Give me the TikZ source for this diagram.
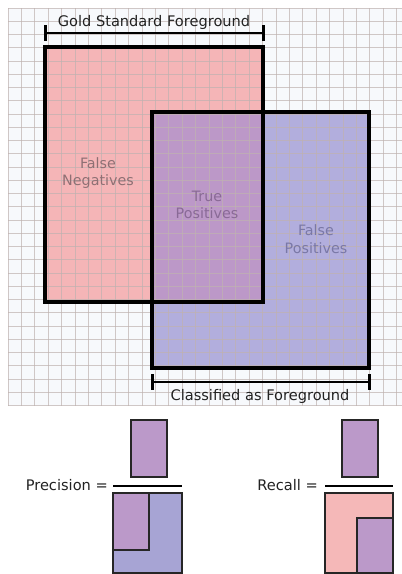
\documentclass[tikz,border=0pt]{standalone}
\usepackage{fontspec}
\setmainfont{DejaVu Sans}
\definecolor{bgc}{HTML}{F7F9FC}
\definecolor{gridc}{HTML}{BFB2B0}
\definecolor{redc}{HTML}{F5B5B7}
\definecolor{bluec}{HTML}{B2AEDD}
\definecolor{purpc}{HTML}{BC98C8}
\definecolor{sbluec}{HTML}{A7A4D4}
\definecolor{spurpc}{HTML}{BB99C9}
\definecolor{sredc}{HTML}{F5B8B8}
\definecolor{fnc}{HTML}{8E7074}
\definecolor{tpc}{HTML}{896A96}
\definecolor{fpc}{HTML}{7A78A6}
\definecolor{txtc}{HTML}{222222}
\begin{document}
\begin{tikzpicture}[x=1pt,y=-1pt,
  bigbox/.style={draw=black,line width=4.5pt},
  bracket/.style={draw=black,line width=2.6pt},
  tick/.style={draw=black,line width=3pt},
  smallbox/.style={draw=black!85,line width=1.3pt},
  fracline/.style={draw=black,line width=1.8pt},
  lbl/.style={font=\fontsize{14.3}{17.5}\selectfont,align=center,inner sep=0pt},
  hdr/.style={font=\fontsize{14.6}{17}\selectfont,text=txtc,inner sep=0pt}]
\useasboundingbox (0,0) rectangle (402,574);
\fill[white] (0,0) rectangle (402,574);
% grid background
\fill[bgc] (8,8) rectangle (402,405.5);
% region fills
\fill[redc] (45,47) rectangle (263,302);
\fill[bluec] (152,112) rectangle (369,368);
\fill[purpc] (152,112) rectangle (263,302);
% grid
\foreach \i in {0,...,29} {
  \draw[gridc,line width=0.9pt,opacity=0.7] ({8+13.4*\i},8) -- ({8+13.4*\i},405.5);
}
\foreach \j in {0,...,30} {
  \draw[gridc,line width=0.9pt,opacity=0.7] (8,{8+13.25*\j}) -- (402,{8+13.25*\j});
}
% borders
\draw[bigbox] (45,47) rectangle (263,302);
\draw[bigbox] (152,112) rectangle (369,368);
% gold bracket
\coordinate (g1) at (45,33);
\coordinate (g2) at (263,33);
\draw[bracket] (g1) -- (g2);
\draw[tick] (45,25) -- (45,41);
\draw[tick] (263,25) -- (263,41);
\node[hdr] (gold) at (154,22) {Gold Standard Foreground};
% classified bracket
\coordinate (c1) at (152,382);
\coordinate (c2) at (369,382);
\draw[bracket] (c1) -- (c2);
\draw[tick] (152,374) -- (152,390);
\draw[tick] (369,374) -- (369,390);
\node[hdr] (clf) at (260,396) {Classified as Foreground};
% labels
\node[lbl,text=fnc] (fn) at (98,173) {False\\Negatives};
\node[lbl,text=tpc] (tp) at (207,205) {True\\Positives};
\node[lbl,text=fpc] (fp) at (316,239) {False\\Positives};
% precision
\node[hdr,anchor=east] (prec) at (108,485) {Precision =};
\filldraw[smallbox,fill=spurpc] (131,420) rectangle (167,477);
\draw[fracline] (113,486) -- (182,486);
\filldraw[smallbox,fill=sbluec] (113,493) rectangle (182,573);
\filldraw[smallbox,fill=spurpc] (113,493) rectangle (149,550);
% recall
\node[hdr,anchor=east] (rec) at (318,485) {Recall =};
\filldraw[smallbox,fill=spurpc] (342,420) rectangle (378,477);
\draw[fracline] (325,486) -- (393,486);
\filldraw[smallbox,fill=sredc] (325,493) rectangle (393,573);
\filldraw[smallbox,fill=spurpc] (357,518) rectangle (393,573);
\end{tikzpicture}
\end{document}
